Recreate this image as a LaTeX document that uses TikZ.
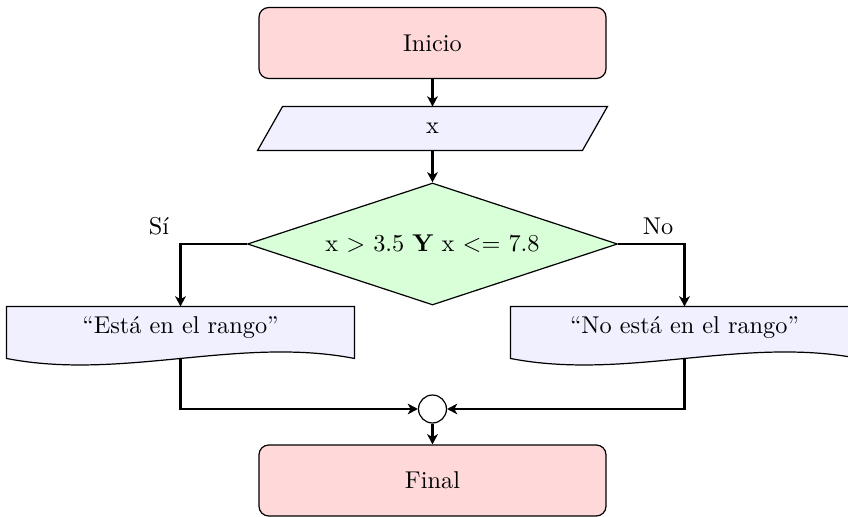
\documentclass[tikz,border=0pt]{standalone}
\usetikzlibrary{shapes.geometric,arrows.meta,calc}
\definecolor{termfill}{RGB}{255,217,217}
\definecolor{iofill}{RGB}{240,240,255}
\definecolor{decfill}{RGB}{217,255,217}
\begin{document}
\begin{tikzpicture}[x=0.4115pt,y=-0.4115pt,
  termbox/.style={draw, line width=0.5pt, fill=termfill, rounded corners=4pt,
    minimum width=142.8pt, minimum height=29.2pt, inner sep=0pt},
  iotext/.style={inner sep=0pt, minimum width=133.3pt, minimum height=17.7pt},
  ioshape/.style={draw, line width=0.5pt, fill=iofill},
  dectext/.style={shape=diamond, draw, line width=0.5pt, fill=decfill, aspect=3,
    inner sep=0pt, minimum width=152.3pt, minimum height=50.2pt},
  doctext/.style={inner sep=0pt, minimum width=142.8pt, minimum height=13.2pt},
  docshape/.style={draw, line width=0.5pt, fill=iofill},
  mergept/.style={circle, draw, line width=0.5pt, fill=white, minimum size=11.5pt, inner sep=0pt},
  conn/.style={line width=0.9pt, -{Stealth[length=4.2pt,width=4.4pt,inset=1.2pt]}},
  lbl/.style={inner sep=0pt}
]
\useasboundingbox (0,0) rectangle (848,517);
\clip (0,0) rectangle (848,517);

% terminal start
\node[termbox] (start) at (432.5,43) {Inicio};

% input parallelogram
\node[iotext] (in) at (432.5,128.5) {};
\draw[ioshape] ($(in.north west)+(12.5,0)$) -- ($(in.north east)+(12.5,0)$)
  -- ($(in.south east)+(-12.5,0)$) -- ($(in.south west)+(-12.5,0)$) -- cycle;
\node[inner sep=0pt] (intext) at (in.center) {x};

% decision
\node[dectext] (dec) at (432.5,244) {x $>$ 3.5 \textbf{Y} x $<=$ 7.8};

% output documents
\node[doctext] (d1) at (180.5,323) {};
\draw[docshape] (d1.north west) -- (d1.north east) -- ($(d1.north east)+(0,52)$)
  .. controls ($(d1.north east)+(-115.7,29.5)$) and ($(d1.north west)+(115.7,74.5)$)
  .. ($(d1.north west)+(0,52)$) -- cycle;
\node[inner sep=0pt] (d1text) at ($(d1.center)+(0,5)$) {``Está en el rango''};
\coordinate (d1b) at ($(d1.north)+(0,52)$);

\node[doctext] (d2) at (684.5,323) {};
\draw[docshape] (d2.north west) -- (d2.north east) -- ($(d2.north east)+(0,52)$)
  .. controls ($(d2.north east)+(-115.7,29.5)$) and ($(d2.north west)+(115.7,74.5)$)
  .. ($(d2.north west)+(0,52)$) -- cycle;
\node[inner sep=0pt] (d2text) at ($(d2.center)+(0,5)$) {``No está en el rango''};
\coordinate (d2b) at ($(d2.north)+(0,52)$);

% merge and end
\node[mergept] (m) at (432.5,409) {};
\node[termbox] (fin) at (432.5,480.5) {Final};

% labels
\node[lbl] (si) at (159,226) {Sí};
\node[lbl] (no) at (658,226) {No};

% connectors
\draw[conn] (start.south) -- (in.north);
\draw[conn] (in.south) -- (dec.north);
\draw[conn] (dec.west) -| (d1.north);
\draw[conn] (dec.east) -| (d2.north);
\draw[conn] (d1b) |- (m.west);
\draw[conn] (d2b) |- (m.east);
\draw[conn] (m.south) -- (fin.north);
\end{tikzpicture}
\end{document}
